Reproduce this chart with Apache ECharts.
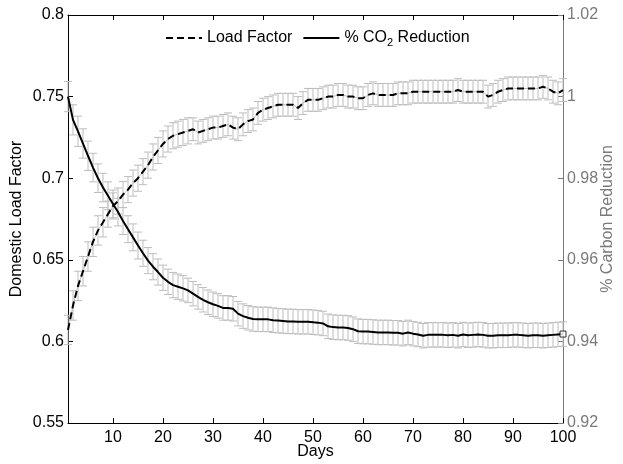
<!DOCTYPE html>
<html><head><meta charset="utf-8">
<script src="https://cdn.jsdelivr.net/npm/echarts@6/dist/echarts.min.js"></script>
<style>html,body{margin:0;padding:0;background:#fff}#c{width:623px;height:464px}</style>
</head><body><div id="c"></div>
<script>
const days = [];
for (let d = 1; d <= 100; d++) days.push(d);

const loadFactor = [
0.607,0.622,0.634,0.643,0.652,0.661,0.668,0.673,0.678,0.683,
0.686,0.690,0.693,0.697,0.700,0.704,0.708,0.713,0.717,0.721,
0.724,0.726,0.727,0.728,0.729,0.730,0.728,0.729,0.730,0.731,
0.731,0.732,0.733,0.731,0.730,0.733,0.735,0.736,0.740,0.742,
0.743,0.744,0.745,0.745,0.745,0.745,0.743,0.746,0.748,0.748,
0.748,0.749,0.750,0.750,0.751,0.751,0.750,0.750,0.749,0.749,
0.751,0.752,0.751,0.751,0.751,0.751,0.752,0.752,0.752,0.753,
0.753,0.753,0.753,0.753,0.753,0.753,0.753,0.753,0.754,0.753,
0.753,0.753,0.753,0.753,0.750,0.751,0.753,0.754,0.755,0.755,
0.755,0.755,0.755,0.755,0.755,0.756,0.755,0.753,0.752,0.754];

const loadFactorErr = [
0.009,0.009,0.009,0.009,0.009,0.009,0.009,0.009,0.008,0.008,
0.008,0.008,0.008,0.008,0.008,0.008,0.008,0.008,0.008,0.008,
0.008,0.008,0.008,0.008,0.008,0.007,0.007,0.007,0.007,0.007,
0.007,0.007,0.007,0.007,0.007,0.007,0.007,0.007,0.007,0.007,
0.007,0.007,0.007,0.007,0.007,0.007,0.007,0.007,0.007,0.007,
0.007,0.007,0.007,0.007,0.007,0.007,0.007,0.007,0.007,0.007,
0.007,0.007,0.007,0.007,0.007,0.007,0.007,0.007,0.007,0.007,
0.007,0.007,0.007,0.007,0.007,0.007,0.007,0.007,0.007,0.007,
0.007,0.007,0.007,0.007,0.007,0.007,0.007,0.007,0.007,0.007,
0.007,0.007,0.007,0.007,0.007,0.007,0.007,0.007,0.007,0.007];

const co2Reduction = [
1.0000,0.9943,0.9915,0.9885,0.9855,0.9826,0.9800,0.9777,0.9757,0.9737,
0.9717,0.9695,0.9675,0.9655,0.9635,0.9616,0.9598,0.9583,0.9570,0.9556,
0.9546,0.9538,0.9534,0.9530,0.9525,0.9517,0.9509,0.9502,0.9496,0.9491,
0.9487,0.9482,0.9482,0.9480,0.9468,0.9462,0.9458,0.9455,0.9454,0.9454,
0.9454,0.9452,0.9451,0.9450,0.9449,0.9449,0.9448,0.9448,0.9448,0.9447,
0.9446,0.9444,0.9437,0.9435,0.9434,0.9434,0.9433,0.9430,0.9425,0.9424,
0.9424,0.9423,0.9422,0.9422,0.9422,0.9421,0.9421,0.9419,0.9422,0.9419,
0.9417,0.9414,0.9416,0.9416,0.9416,0.9416,0.9415,0.9416,0.9414,0.9417,
0.9415,0.9416,0.9417,0.9416,0.9414,0.9414,0.9415,0.9415,0.9415,0.9416,
0.9416,0.9415,0.9414,0.9415,0.9415,0.9414,0.9415,0.9416,0.9417,0.9418];

const co2Err = [
0.0037,0.0037,0.0037,0.0036,0.0036,0.0035,0.0035,0.0035,0.0034,0.0034,
0.0034,0.0033,0.0033,0.0033,0.0033,0.0032,0.0032,0.0032,0.0032,0.0031,
0.0031,0.0031,0.0031,0.0031,0.0030,0.0030,0.0030,0.0030,0.0030,0.0030,
0.0030,0.0030,0.0030,0.0030,0.0030,0.0030,0.0030,0.0030,0.0030,0.0030,
0.0030,0.0030,0.0030,0.0030,0.0030,0.0030,0.0030,0.0030,0.0030,0.0030,
0.0030,0.0030,0.0030,0.0030,0.0030,0.0030,0.0030,0.0030,0.0030,0.0030,
0.0030,0.0030,0.0030,0.0030,0.0030,0.0030,0.0030,0.0030,0.0030,0.0030,
0.0030,0.0030,0.0030,0.0030,0.0030,0.0030,0.0030,0.0030,0.0030,0.0030,
0.0030,0.0030,0.0030,0.0030,0.0030,0.0030,0.0030,0.0030,0.0030,0.0030,
0.0030,0.0030,0.0030,0.0030,0.0030,0.0030,0.0030,0.0030,0.0030,0.0030];

const xTicks = [10,20,30,40,50,60,70,80,90,100];
const FONT = 'Liberation Sans, Arial, Helvetica, sans-serif';
const GRAY = '#bdbdbd';
const RGRAY = '#7a7a7a';
const FS = 16;

const pair = (a) => days.map((d, i) => [d, a[i]]);
const triple = (a, e) => days.map((d, i) => [d, a[i], e[i]]);

function errRender(params, api) {
  const x = api.value(0), y = api.value(1), e = api.value(2);
  const t = api.coord([x, y + e]);
  const b = api.coord([x, y - e]);
  const hw = 4;
  const st = { stroke: GRAY, lineWidth: 1 };
  return { type: 'group', children: [
    { type: 'line', shape: { x1: t[0], y1: t[1], x2: b[0], y2: b[1] }, style: st },
    { type: 'line', shape: { x1: t[0]-hw, y1: t[1], x2: t[0]+hw, y2: t[1] }, style: st },
    { type: 'line', shape: { x1: b[0]-hw, y1: b[1], x2: b[0]+hw, y2: b[1] }, style: st }
  ]};
}

const chart = echarts.init(document.getElementById('c'), null, { renderer: 'canvas' });
chart.setOption({
  animation: false,
  backgroundColor: '#fff',
  textStyle: { fontFamily: FONT },
  grid: { left: 68, right: 60, top: 15, bottom: 41, containLabel: false, outerBoundsMode: 'none' },
  legend: {
    data: ['Load Factor', '% CO2 Reduction'],
    left: 160, top: 25, itemWidth: 36, itemHeight: 14, itemGap: 10,
    itemStyle: { color: 'rgba(0,0,0,0)', borderWidth: 0, opacity: 0 },
    formatter: (n) => n === 'Load Factor' ? '{t|Load Factor}' : '{t|% CO}{s|2}{t| Reduction}',
    textStyle: { fontFamily: FONT, color: '#000',
      rich: { t: { fontSize: FS, fontFamily: FONT, color: '#000' },
              s: { fontSize: 11, fontFamily: FONT, color: '#000', padding: [10, 0, 0, 0] } } }
  },
  xAxis: [{
    type: 'value', min: 1, max: 100, position: 'bottom',
    name: 'Days', nameLocation: 'middle', nameGap: 21, nameMoveOverlap: false,
    nameTextStyle: { fontSize: FS, color: '#000', fontFamily: FONT },
    axisLine: { lineStyle: { color: '#000', width: 1 } },
    axisTick: { inside: true, length: 5, customValues: xTicks, lineStyle: { color: '#000' } },
    axisLabel: { customValues: xTicks, fontSize: FS, color: '#000', margin: 7, fontFamily: FONT },
    splitLine: { show: false }
  }, {
    type: 'value', min: 1, max: 100, position: 'top',
    axisLine: { lineStyle: { color: '#000', width: 1 } },
    axisTick: { inside: true, length: 5, customValues: xTicks, lineStyle: { color: '#000' } },
    axisLabel: { show: false },
    splitLine: { show: false }
  }],
  yAxis: [{
    type: 'value', min: 0.55, max: 0.8, interval: 0.05, position: 'left',
    name: 'Domestic Load Factor', nameLocation: 'middle', nameGap: 43, nameRotate: 90,
    nameMoveOverlap: false,
    nameTextStyle: { fontSize: FS, color: '#000', fontFamily: FONT },
    axisLine: { show: true, lineStyle: { color: '#000', width: 1 } },
    axisTick: { show: true, inside: true, length: 5, lineStyle: { color: '#000' } },
    axisLabel: { fontSize: FS, color: '#000', margin: 4, fontFamily: FONT },
    splitLine: { show: false }
  }, {
    type: 'value', min: 0.92, max: 1.02, interval: 0.02, position: 'right',
    name: '% Carbon Reduction', nameLocation: 'middle', nameGap: 37, nameRotate: 90,
    nameMoveOverlap: false,
    nameTextStyle: { fontSize: FS, color: RGRAY, fontFamily: FONT },
    axisLine: { show: true, lineStyle: { color: RGRAY, width: 1 } },
    axisTick: { show: true, inside: true, length: 5, lineStyle: { color: RGRAY } },
    axisLabel: { fontSize: FS, color: RGRAY, margin: 4, fontFamily: FONT,
      formatter: (v) => String(+v.toFixed(2)) },
    splitLine: { show: false }
  }],
  series: [
    { name: 'lfErr', type: 'custom', xAxisIndex: 0, yAxisIndex: 0, renderItem: errRender,
      data: triple(loadFactor, loadFactorErr), clip: false, z: 1, silent: true },
    { name: 'co2Err', type: 'custom', xAxisIndex: 0, yAxisIndex: 1, renderItem: errRender,
      data: triple(co2Reduction, co2Err), clip: false, z: 1, silent: true },
    { name: 'lfThin', type: 'line', xAxisIndex: 0, yAxisIndex: 0, data: pair(loadFactor),
      symbol: 'none', lineStyle: { color: GRAY, width: 1 }, z: 2, silent: true },
    { name: 'Load Factor', type: 'line', xAxisIndex: 0, yAxisIndex: 0, data: pair(loadFactor),
      symbol: 'none', color: '#000',
      lineStyle: { color: '#000', width: 2, type: [7, 4] }, z: 3 },
    { name: '% CO2 Reduction', type: 'line', xAxisIndex: 0, yAxisIndex: 1, data: pair(co2Reduction),
      symbol: 'none', color: '#000',
      lineStyle: { color: '#000', width: 2 }, z: 3 },
    { name: 'endMark', type: 'scatter', xAxisIndex: 0, yAxisIndex: 1,
      data: [[days[days.length-1], co2Reduction[co2Reduction.length-1]]],
      symbol: 'rect', symbolSize: 6,
      itemStyle: { color: '#fff', borderColor: '#000', borderWidth: 1 }, z: 4, clip: false }
  ]
});
</script></body></html>
